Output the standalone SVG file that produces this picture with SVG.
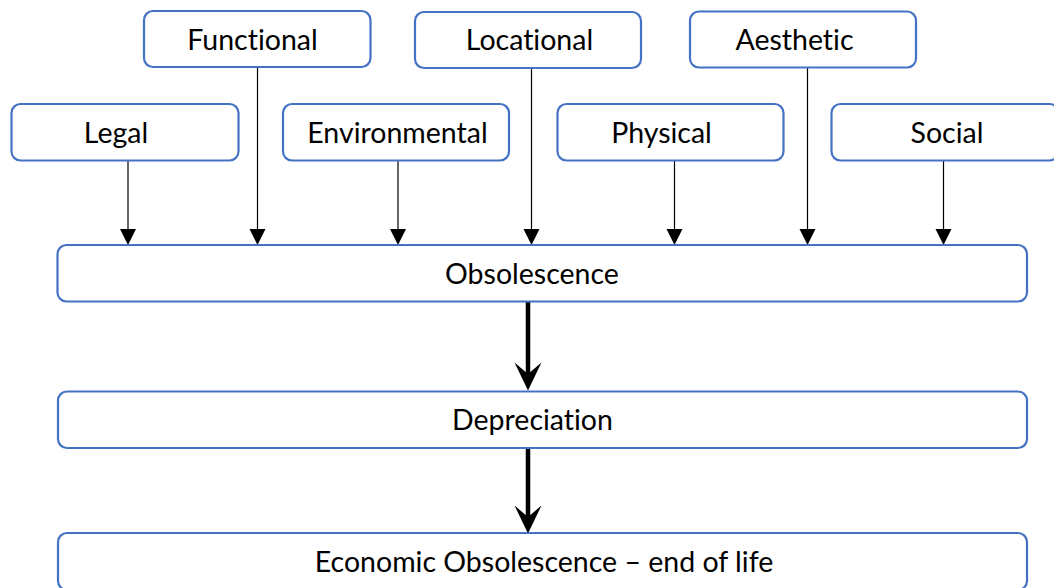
<svg xmlns="http://www.w3.org/2000/svg" width="1054" height="588" viewBox="0 0 1054 588">
  <style>
    .box { fill: #ffffff; stroke: #4472C4; stroke-width: 2.2; }
    .lbl { font-family: Lato, "Open Sans", "Liberation Sans", sans-serif; font-size: 28.5px; fill: #000000; text-anchor: middle; font-variant-ligatures: none; }
    .thin { stroke: #000000; stroke-width: 1.2; fill: none; }
    .thick { stroke: #000000; stroke-width: 4.5; fill: none; }
    .head { fill: #000000; }
  </style>
  <rect width="1054" height="588" fill="#ffffff"/>

  <!-- connectors: factors into Obsolescence, then the main chain -->
  <g id="connectors">
    <line class="thin" x1="128" y1="161" x2="128" y2="230"/>
    <path class="head" d="M120 229 L136 229 L128 245 Z"/>
    <line class="thin" x1="257.5" y1="67" x2="257.5" y2="230"/>
    <path class="head" d="M249.5 229 L265.5 229 L257.5 245 Z"/>
    <line class="thin" x1="398" y1="161" x2="398" y2="230"/>
    <path class="head" d="M390 229 L406 229 L398 245 Z"/>
    <line class="thin" x1="531.5" y1="68" x2="531.5" y2="230"/>
    <path class="head" d="M523.5 229 L539.5 229 L531.5 245 Z"/>
    <line class="thin" x1="674.5" y1="161" x2="674.5" y2="230"/>
    <path class="head" d="M666.5 229 L682.5 229 L674.5 245 Z"/>
    <line class="thin" x1="807.5" y1="67" x2="807.5" y2="230"/>
    <path class="head" d="M799.5 229 L815.5 229 L807.5 245 Z"/>
    <line class="thin" x1="943.5" y1="161" x2="943.5" y2="230"/>
    <path class="head" d="M935.5 229 L951.5 229 L943.5 245 Z"/>

    <line class="thick" x1="528" y1="302" x2="528" y2="380"/>
    <path class="head" d="M528 390.5 L514.5 362.5 L528 374 L541.5 362.5 Z"/>
    <line class="thick" x1="528" y1="448" x2="528" y2="523"/>
    <path class="head" d="M528 533.5 L514.5 505.5 L528 517 L541.5 505.5 Z"/>
  </g>

  <g id="functional">
    <rect class="box" x="144" y="11" width="226.5" height="56" rx="9"/>
    <text class="lbl" x="252.5" y="50">Functional</text>
  </g>
  <g id="locational">
    <rect class="box" x="415" y="12" width="226" height="56" rx="9"/>
    <text class="lbl" x="529.5" y="50">Locational</text>
  </g>
  <g id="aesthetic">
    <rect class="box" x="690" y="11.5" width="226" height="56" rx="9"/>
    <text class="lbl" x="794.5" y="50">Aesthetic</text>
  </g>
  <g id="legal">
    <rect class="box" x="11.5" y="104" width="227" height="56.5" rx="9"/>
    <text class="lbl" x="116" y="143">Legal</text>
  </g>
  <g id="environmental">
    <rect class="box" x="283" y="104" width="226" height="56.5" rx="9"/>
    <text class="lbl" x="397.5" y="143">Environmental</text>
  </g>
  <g id="physical">
    <rect class="box" x="557.5" y="104" width="226" height="56.5" rx="9"/>
    <text class="lbl" x="661.5" y="143">Physical</text>
  </g>
  <g id="social">
    <rect class="box" x="831.5" y="104" width="227" height="56.5" rx="9"/>
    <text class="lbl" x="947" y="143">Social</text>
  </g>
  <g id="obsolescence">
    <rect class="box" x="57.5" y="245" width="969.5" height="56.5" rx="9"/>
    <text class="lbl" x="532" y="283.5">Obsolescence</text>
  </g>
  <g id="depreciation">
    <rect class="box" x="58" y="391.5" width="969" height="56.5" rx="9"/>
    <text class="lbl" x="532.5" y="429.5">Depreciation</text>
  </g>
  <g id="economic-obsolescence">
    <rect class="box" x="58" y="533" width="969" height="57" rx="9"/>
    <text class="lbl" x="544" y="571.5">Economic Obsolescence – end of life</text>
  </g>
</svg>
